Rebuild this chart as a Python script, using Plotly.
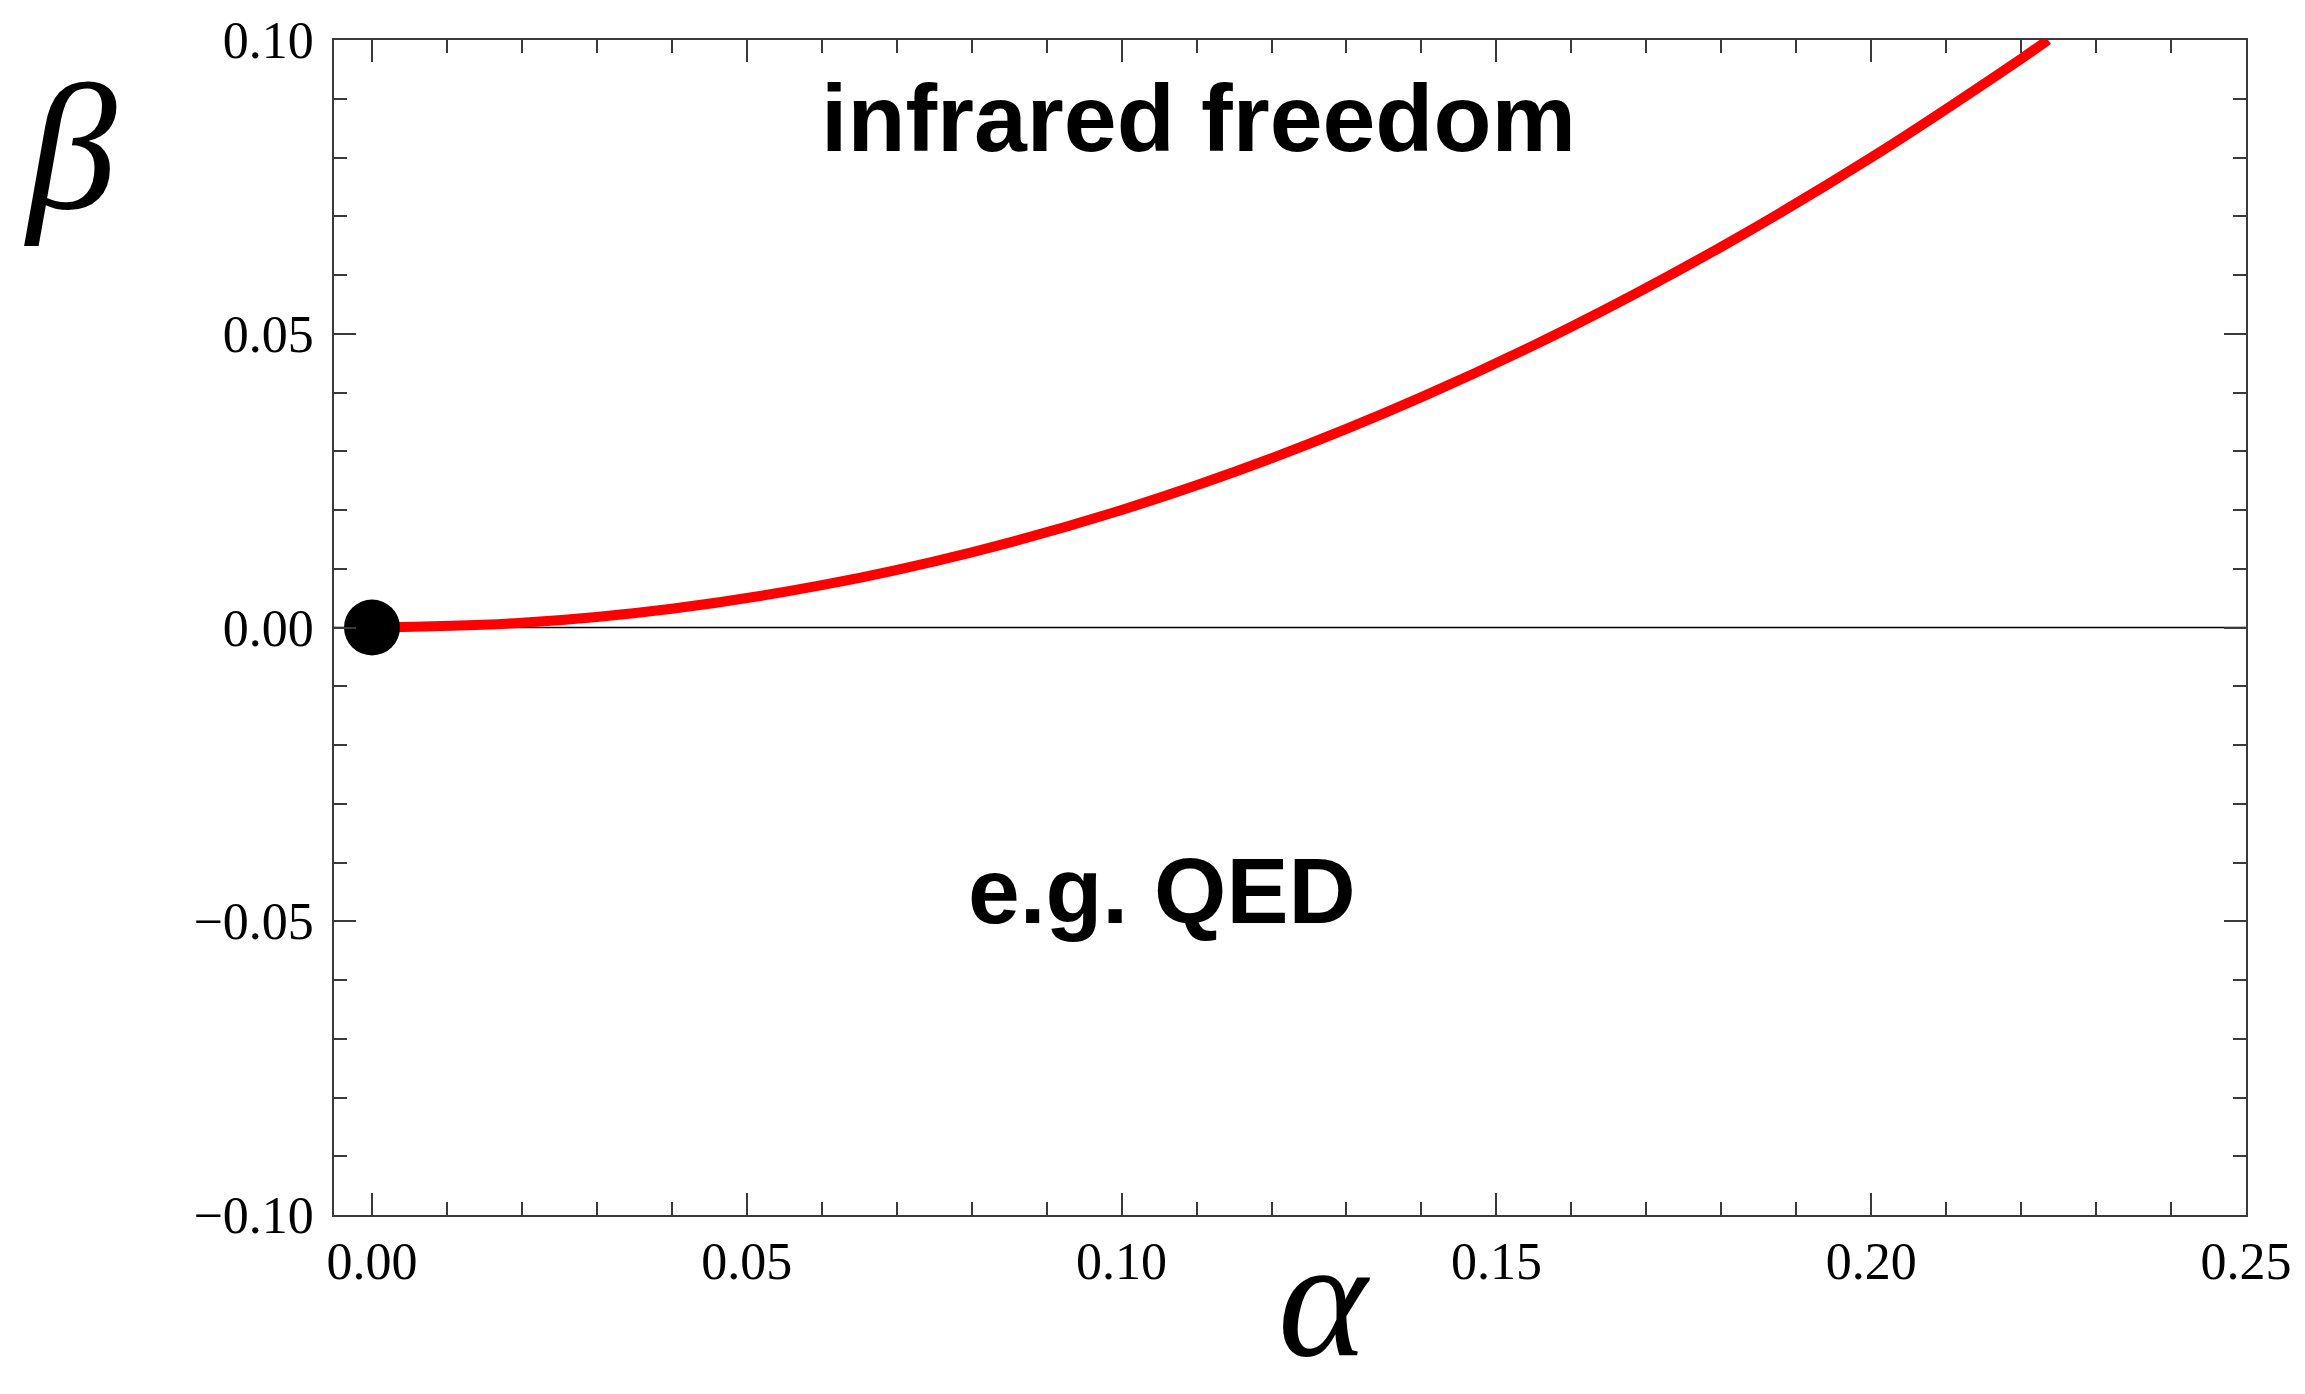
import plotly.graph_objects as go

# beta-function curve: coupling alpha vs beta(alpha)
alpha = [0.0, 0.02, 0.04, 0.06, 0.08, 0.10, 0.12, 0.14, 0.16, 0.18, 0.20, 0.22, 0.2236]
beta = [0.0, 0.0008, 0.0032, 0.0072, 0.0128, 0.020, 0.0288, 0.0392, 0.0512, 0.0648, 0.080, 0.0968, 0.100]

# fixed point at the origin
fixed_alpha = [0.0]
fixed_beta = [0.0]

x_ticks = [0.0, 0.05, 0.10, 0.15, 0.20, 0.25]
x_tick_text = ["0.00", "0.05", "0.10", "0.15", "0.20", "0.25"]
y_ticks = [-0.10, -0.05, 0.0, 0.05, 0.10]
y_tick_text = ["\u22120.10", "\u22120.05", "0.00", "0.05", "0.10"]

frame_color = "#3a3a3a"
tick_font = dict(family="Liberation Serif", size=52, color="black")

fig = go.Figure()

# beta = 0 reference line
fig.add_trace(go.Scatter(
    x=[-0.01, 0.26], y=[0, 0], mode="lines",
    line=dict(color="black", width=1.5), hoverinfo="skip", showlegend=False,
))

fig.add_trace(go.Scatter(
    x=alpha, y=beta, mode="lines",
    line=dict(color="#ff0000", width=10, shape="spline"),
    showlegend=False,
))

fig.add_trace(go.Scatter(
    x=fixed_alpha, y=fixed_beta, mode="markers",
    marker=dict(color="black", size=56),
    cliponaxis=False, showlegend=False,
))

axis_common = dict(
    showgrid=False, zeroline=False,
    showline=True, linecolor=frame_color, linewidth=1.5, mirror="ticks",
    ticks="inside", ticklen=22, tickwidth=1.5, tickcolor=frame_color,
    tickfont=tick_font,
)

fig.update_xaxes(
    range=[-0.00507, 0.25], tickvals=x_ticks, ticktext=x_tick_text,
    ticklabelstandoff=0,
    minor=dict(dtick=0.01, tick0=0, ticks="inside", ticklen=13, tickwidth=1.5, tickcolor=frame_color),
    **axis_common,
)
fig.update_yaxes(
    range=[-0.10, 0.10], tickvals=y_ticks, ticktext=y_tick_text,
    ticklabelstandoff=8,
    minor=dict(dtick=0.01, tick0=0, ticks="inside", ticklen=13, tickwidth=1.5, tickcolor=frame_color),
    **axis_common,
)

fig.add_annotation(
    x=0.1103, y=0.0868, xref="x", yref="y", text="<b>infrared freedom</b>",
    showarrow=False, font=dict(family="Liberation Sans", size=95, color="black"),
)
fig.add_annotation(
    x=0.1054, y=-0.0449, xref="x", yref="y", text="<b>e.g. QED</b>",
    showarrow=False, font=dict(family="Liberation Sans", size=93, color="black"),
)

# axis symbols
fig.add_annotation(
    x=-0.163, y=0.995, xref="paper", yref="paper", text="<i>\u03b2</i>",
    showarrow=False, font=dict(family="Liberation Serif", size=180, color="black"),
)
fig.add_annotation(
    x=0.518, y=-0.1517, xref="paper", yref="paper", yanchor="bottom",
    text="<i>\u03b1</i>", borderpad=0,
    showarrow=False, font=dict(family="Liberation Serif", size=170, color="black"),
)

fig.update_layout(
    width=2305, height=1394,
    margin=dict(l=334, r=59, t=35, b=179),
    paper_bgcolor="white", plot_bgcolor="white",
    showlegend=False,
)

fig.write_html("out.html")
